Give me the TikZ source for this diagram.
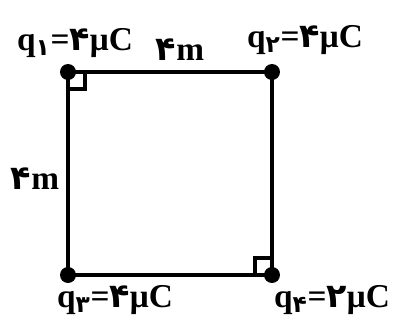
\documentclass[tikz,border=0pt]{standalone}
\usepackage{fontspec}
\setmainfont{Liberation Serif}
\newfontfamily\fadigits[Script=Arabic]{DejaVu Sans}
\usetikzlibrary{positioning}
\newcommand{\fa}[1]{{\fadigits #1}}
\newcommand{\qlab}[2]{q\textsubscript{\fa{#1}}=\fa{#2}μC}

\begin{document}
\begin{tikzpicture}[x=0.75pt,y=-0.75pt,
  charge/.style={circle,fill=black,inner sep=0pt,minimum size=12pt},
  side/.style={line width=2.6pt},
  rightang/.style={line width=2.4pt},
  lbl/.style={font=\fontsize{25}{28}\selectfont\bfseries,inner sep=0pt}]
  \useasboundingbox (0,0) rectangle (394,322);
  \node[charge] (q1) at (68,72) {};
  \node[charge] (q2) at (272,72) {};
  \node[charge] (q3) at (68,275) {};
  \node[charge] (q4) at (272,275) {};
  \draw[side] (q1.center) -- (q2.center) -- (q4.center) -- (q3.center) -- cycle;
  % right angles
  \draw[rightang] (q1.center) ++(0,17) -- ++(17,0) -- ++(0,-17);
  \draw[rightang] (q4.center) ++(-17,0) -- ++(0,-17) -- ++(17,0);
  \node[lbl] (l1) at (75,43) {\qlab{۱}{۴}};
  \node[lbl] (l2) at (305,40) {\qlab{۲}{۴}};
  \node[lbl] (l3) at (115,300) {\qlab{۳}{۴}};
  \node[lbl] (l4) at (332,300) {\qlab{۴}{۲}};
  \node[lbl] (top) at (180,50) {\fa{۴}m};
  \node[lbl] (left) at (35,179) {\fa{۴}m};
\end{tikzpicture}
\end{document}
